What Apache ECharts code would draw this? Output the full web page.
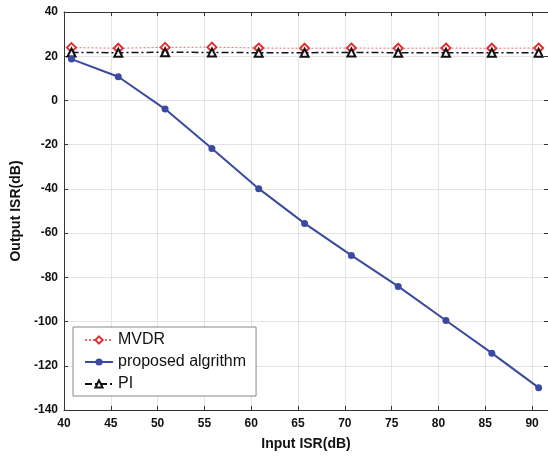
<!DOCTYPE html>
<html>
<head>
<meta charset="utf-8">
<script src="https://cdn.jsdelivr.net/npm/echarts@6/dist/echarts.min.js"></script>
<style>
  html, body { margin: 0; padding: 0; background: #fff; }
  #chart { width: 548px; height: 456px; }
</style>
</head>
<body>
<div id="chart"></div>
<script>
// Input ISR (dB) sample positions
const inputISR = [40.8, 45.8, 50.8, 55.8, 60.8, 65.7, 70.7, 75.7, 80.8, 85.7, 90.7];
// Output ISR (dB) per method
const mvdr = [23.9, 23.6, 24.0, 24.1, 23.7, 23.6, 23.7, 23.6, 23.7, 23.6, 23.7];
const proposed = [18.7, 10.7, -3.9, -21.7, -39.9, -55.6, -70.1, -84.1, -99.5, -114.3, -129.9];
const pi = [21.7, 21.6, 21.8, 21.7, 21.6, 21.6, 21.7, 21.6, 21.6, 21.6, 21.6];

const xTicks = [40, 45, 50, 55, 60, 65, 70, 75, 80, 85, 90];
const yTicks = [-140, -120, -100, -80, -60, -40, -20, 0, 20, 40];

const pairs = (xs, ys) => xs.map((x, i) => [x, ys[i]]);

const font = 'Liberation Sans, Arial, sans-serif';
const chart = echarts.init(document.getElementById('chart'), null, { renderer: 'canvas' });

const baseX = {
  type: 'value', min: 40, max: 91.7, interval: 5,
  axisLine: { show: true, onZero: false, lineStyle: { color: '#333', width: 1 } },
  axisTick: { show: true, inside: true, length: 4, lineStyle: { color: '#333' } },
  splitLine: { show: false }
};
const baseY = {
  type: 'value', min: -140, max: 40, interval: 20,
  axisLine: { show: true, onZero: false, lineStyle: { color: '#333', width: 1 } },
  axisTick: { show: true, inside: true, length: 4, lineStyle: { color: '#333' } },
  splitLine: { show: false }
};

chart.setOption({
  animation: false,
  backgroundColor: '#fff',
  grid: { left: 64, right: 0, top: 12, bottom: 46, show: false },
  xAxis: [
    Object.assign({}, baseX, {
      position: 'bottom',
      name: 'Input ISR(dB)',
      nameLocation: 'middle',
      nameGap: 27,
      nameTextStyle: { fontFamily: font, fontSize: 14, fontWeight: 'bold', color: '#111' },
      axisLabel: {
        fontFamily: font, fontSize: 12, fontWeight: 'bold', color: '#111', margin: 8,
        showMaxLabel: false,
        formatter: v => (xTicks.indexOf(v) >= 0 ? String(v) : '')
      },
      splitLine: { show: true, lineStyle: { color: '#e4e4e4', width: 1 } }
    }),
    Object.assign({}, baseX, { position: 'top', axisLabel: { show: false } })
  ],
  yAxis: [
    Object.assign({}, baseY, {
      position: 'left',
      name: 'Output ISR(dB)',
      nameLocation: 'middle',
      nameGap: 40,
      nameTextStyle: { fontFamily: font, fontSize: 14, fontWeight: 'bold', color: '#111' },
      axisLabel: {
        fontFamily: font, fontSize: 12, fontWeight: 'bold', color: '#111', margin: 6,
        formatter: v => (yTicks.indexOf(v) >= 0 ? String(v) : '')
      },
      splitLine: { show: true, lineStyle: { color: '#e4e4e4', width: 1 } }
    }),
    Object.assign({}, baseY, { position: 'right', axisLabel: { show: false } })
  ],
  legend: {
    orient: 'vertical',
    left: 73, top: 327,
    padding: [5, 10, 4, 11],
    itemGap: 6,
    itemWidth: 28, itemHeight: 9,
    backgroundColor: '#fff',
    borderColor: '#888', borderWidth: 1,
    textStyle: { fontFamily: font, fontSize: 16, lineHeight: 16, color: '#111' },
    data: ['MVDR', 'proposed algrithm', 'PI']
  },
  series: [
    {
      name: 'MVDR', type: 'line', data: pairs(inputISR, mvdr),
      symbol: 'emptyDiamond', symbolSize: 9, z: 3,
      itemStyle: { color: '#e03030', borderWidth: 1.5 },
      lineStyle: { color: '#e86a6a', width: 1, type: [2, 2] }
    },
    {
      name: 'proposed algrithm', type: 'line', data: pairs(inputISR, proposed),
      symbol: 'circle', symbolSize: 7, z: 4,
      itemStyle: { color: '#3a4aa0' },
      lineStyle: { color: '#3a4aa0', width: 2 }
    },
    {
      name: 'PI', type: 'line', data: pairs(inputISR, pi),
      symbol: 'emptyTriangle', symbolSize: 8, z: 3,
      itemStyle: { color: '#111', borderWidth: 1.5 },
      lineStyle: { color: '#111', width: 1.5, type: [7, 3, 2, 3] }
    }
  ]
});
</script>
</body>
</html>
